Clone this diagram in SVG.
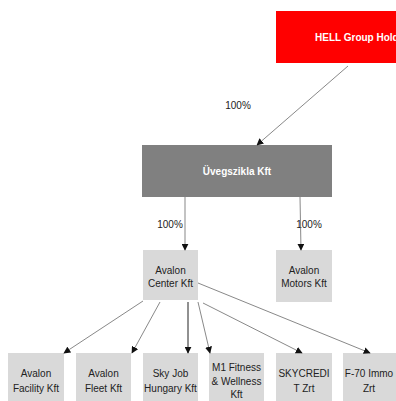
<svg xmlns="http://www.w3.org/2000/svg" width="396" height="401" viewBox="0 0 396 401">
<style>
text{font-family:"Liberation Sans",Arial,sans-serif;font-size:10px;fill:#222;text-anchor:middle}
.box{fill:#d9d9d9}
.w{fill:#fff;font-weight:bold}
.c line{stroke:#555;stroke-width:0.7;marker-end:url(#ah)}
</style>
<defs>
<marker id="ah" viewBox="0 0 10 10" refX="9" refY="5" markerWidth="7" markerHeight="7" markerUnits="userSpaceOnUse" orient="auto">
<path d="M0,0 L10,5 L0,10 z" fill="#111"/>
</marker>
</defs>
<rect width="396" height="401" fill="#fff"/>
<g id="hell"><rect x="276" y="11" width="122" height="52" fill="#ff0000"/><text class="w" x="315" y="41" style="text-anchor:start">HELL Group Hold</text></g>
<g id="uveg"><rect x="142" y="145" width="190" height="52" fill="#808080"/><text class="w" x="237" y="175">Üvegszikla Kft</text></g>
<g id="center"><rect class="box" x="143" y="250" width="55" height="50"/><text x="170.5" y="274">Avalon</text><text x="170.5" y="287">Center Kft</text></g>
<g id="motors"><rect class="box" x="276" y="250" width="56" height="52"/><text x="304" y="274">Avalon</text><text x="304" y="287">Motors Kft</text></g>
<g id="facility"><rect class="box" x="8" y="353" width="56" height="48"/><text x="36" y="377">Avalon</text><text x="36" y="392">Facility Kft</text></g>
<g id="fleet"><rect class="box" x="76" y="353" width="55" height="48"/><text x="103.5" y="377">Avalon</text><text x="103.5" y="392">Fleet Kft</text></g>
<g id="skyjob"><rect class="box" x="143" y="353" width="55" height="48"/><text x="170.5" y="377">Sky Job</text><text x="170.5" y="392">Hungary Kft</text></g>
<g id="m1"><rect class="box" x="209" y="353" width="55" height="48"/><text x="236.5" y="371">M1 Fitness</text><text x="236.5" y="385">&amp; Wellness</text><text x="236.5" y="398">Kft</text></g>
<g id="skycredit"><rect class="box" x="276" y="353" width="56" height="48"/><text x="304" y="377">SKYCREDI</text><text x="304" y="392">T Zrt</text></g>
<g id="f70"><rect class="box" x="343" y="353" width="56" height="48"/><text x="369" y="377">F-70 Immo</text><text x="369" y="392">Zrt</text></g>
<g id="labels">
<text x="238" y="109">100%</text>
<text x="170" y="228">100%</text>
<text x="309" y="228">100%</text>
</g>
<g class="c" id="connectors">
<line x1="348" y1="66" x2="257" y2="145"/>
<line x1="185" y1="197" x2="185" y2="250"/>
<line x1="300" y1="197" x2="301" y2="250"/>
<line x1="143" y1="301" x2="64" y2="353"/>
<line x1="160" y1="302" x2="132" y2="353"/>
<line x1="188" y1="302" x2="188" y2="353" style="stroke:#222;stroke-width:1"/>
<line x1="198" y1="302" x2="210" y2="353"/>
<line x1="203" y1="303" x2="302" y2="353"/>
<line x1="198" y1="283" x2="370" y2="353"/>
</g>
</svg>
